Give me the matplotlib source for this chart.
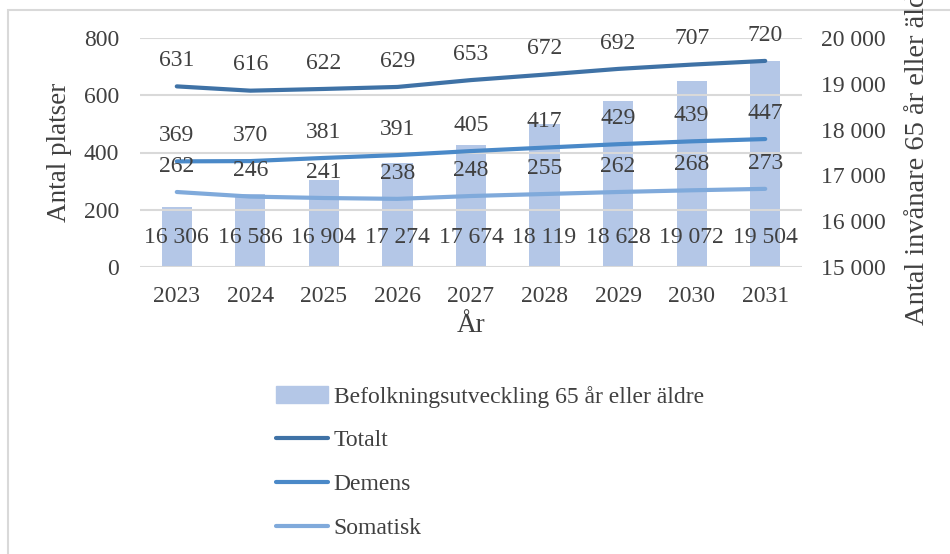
import matplotlib.pyplot as plt
from matplotlib.patches import Rectangle
from matplotlib.lines import Line2D

plt.rcParams['font.family'] = ['Liberation Serif', 'DejaVu Serif']

years = ['2023', '2024', '2025', '2026', '2027', '2028', '2029', '2030', '2031']
befolkning = [16306, 16586, 16904, 17274, 17674, 18119, 18628, 19072, 19504]
totalt = [631, 616, 622, 629, 653, 672, 692, 707, 720]
demens = [369, 370, 381, 391, 405, 417, 429, 439, 447]
somatisk = [262, 246, 241, 238, 248, 255, 262, 268, 273]

text_col = '#404040'
grid_col = '#D9D9D9'
bar_col = '#B4C7E7'
col_tot = '#3F72A6'
col_dem = '#4A89C8'
col_som = '#80AADB'
fs = 17

fig = plt.figure(figsize=(9.5, 5.54), dpi=100)
fig.patches.append(Rectangle((8 / 950, -0.1), 1.2, (554 - 10) / 554 + 0.1,
                             transform=fig.transFigure, fill=False,
                             edgecolor='#D9D9D9', linewidth=1.5))

ax = fig.add_axes([140 / 950, 1 - 267 / 554, 662 / 950, 229 / 554])
ax2 = ax.twinx()
x = list(range(len(years)))

# bars on the secondary axis, behind the lines
ax2.bar(x, befolkning, width=0.41, color=bar_col, zorder=1)
ax2.set_ylim(15000, 20000)
ax2.set_yticks(range(15000, 20001, 1000))
ax2.set_yticklabels([f'{v // 1000} 000' for v in range(15000, 20001, 1000)])
for xi, v in zip(x, befolkning):
    ax2.text(xi, 15650, f'{v // 1000} {v % 1000:03d}', ha='center', va='center',
             fontsize=fs, color=text_col)

ax.set_zorder(ax2.get_zorder() + 1)
ax.patch.set_visible(False)
ax.set_ylim(0, 800)
ax.set_yticks(range(0, 801, 200))
ax.set_xlim(-0.5, len(years) - 0.5)
ax.set_xticks(x)
ax.set_xticklabels(years)
ax.grid(axis='y', color=grid_col, linewidth=1.5)
ax.set_axisbelow(True)

series = [(totalt, col_tot, 'Totalt'), (demens, col_dem, 'Demens'),
          (somatisk, col_som, 'Somatisk')]
for vals, col, name in series:
    ax.plot(x, vals, color=col, linewidth=3, solid_capstyle='round',
            solid_joinstyle='round')
    for xi, v in zip(x, vals):
        ax.text(xi, v + 90, str(v), ha='center', va='center',
                fontsize=fs, color=text_col)

for a in (ax, ax2):
    for s in a.spines.values():
        s.set_visible(False)
    a.tick_params(length=0, labelsize=fs, colors=text_col)
ax.tick_params(axis='x', pad=14)
ax.tick_params(axis='y', pad=15)
ax2.tick_params(axis='y', pad=14)

fig.text(60 / 950, 1 - 152 / 554, 'Antal platser', rotation=90,
         ha='center', va='center', fontsize=19.5, color=text_col)
fig.text(471 / 950, 1 - 326 / 554, 'År', ha='center', va='center',
         fontsize=19.5, color=text_col)
# long right-hand title runs past the top edge
fig.text(918 / 950, 1 - 325 / 554, 'Antal invånare 65 år eller äldre',
         rotation=90, ha='center', va='bottom', fontsize=20.5, color=text_col)

handles = [Rectangle((0, 0), 1, 1, color=bar_col)]
handles += [Line2D([0], [0], color=c, linewidth=3, solid_capstyle='round')
            for _, c, _ in series]
labels = ['Befolkningsutveckling 65 år eller äldre'] + [n for _, _, n in series]
leg = fig.legend(handles, labels, loc='upper left',
                 bbox_to_anchor=(264 / 950, 1 - 374 / 554), frameon=False,
                 fontsize=fs, labelspacing=0.94, handlelength=2.2,
                 handletextpad=0.25, borderpad=0)
for t in leg.get_texts():
    t.set_color(text_col)

fig.savefig('out.png', dpi=100)
